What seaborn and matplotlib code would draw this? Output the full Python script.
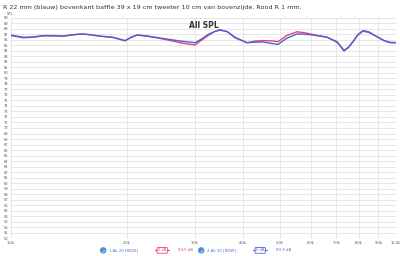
import pandas as pd
import matplotlib.pyplot as plt
import seaborn as sns

# frequency response
freq = [1000, 1074, 1140, 1211, 1290, 1364, 1450, 1529, 1610, 1703, 1840, 1978, 2050, 2124,
        2250, 2393, 2633, 2800, 3007, 3130, 3250, 3370, 3489, 3650, 3818, 4102, 4300, 4514,
        4720, 4939, 5200, 5532, 5800, 6085, 6621, 7025, 7180, 7326, 7520, 7733, 7960, 8205,
        8500, 8926, 9300, 9644, 10000]
spl_blue = [86.9, 86.5, 86.55, 86.8, 86.8, 86.7, 86.95, 87.1, 86.95, 86.7, 86.5, 85.9, 86.5,
            86.9, 86.75, 86.45, 86.0, 85.75, 85.5, 86.2, 87.0, 87.5, 87.8, 87.5, 86.5, 85.5,
            85.6, 85.65, 85.4, 85.2, 86.3, 87.1, 87.05, 86.9, 86.5, 85.7, 84.9, 84.1, 84.7,
            85.7, 86.9, 87.6, 87.4, 86.6, 85.9, 85.5, 85.5]
spl_red = [86.8, 86.4, 86.5, 86.75, 86.75, 86.7, 86.95, 87.1, 86.95, 86.7, 86.45, 85.85, 86.45,
           86.9, 86.7, 86.4, 85.8, 85.4, 85.1, 86.0, 86.8, 87.5, 87.9, 87.5, 86.4, 85.5,
           85.8, 85.9, 85.85, 85.7, 86.8, 87.5, 87.3, 87.0, 86.5, 85.6, 84.8, 84.0, 84.6,
           85.7, 87.0, 87.7, 87.5, 86.6, 85.9, 85.6, 85.5]
series_names = ['1-Ak 20 [RDW]', '2-Ak 20 [RDW]']
offsets = ['0 dB', '0 dB']
levels = ['93,5 dB', '93,3 dB']
xticks = [1000, 2000, 3000, 4000, 5000, 6000, 7000, 8000, 9000, 10000]
xtick_labels = ['1.0k', '2.0k', '3.0k', '4.0k', '5.0k', '6.0k', '7.0k', '8.0k', '9.0k', '10.0k']
yticks = list(range(50, 91))

df = pd.concat([
    pd.DataFrame({'freq': freq, 'spl': spl_red, 'curve': series_names[0]}),
    pd.DataFrame({'freq': freq, 'spl': spl_blue, 'curve': series_names[1]}),
])

colors = {series_names[0]: '#e8436e', series_names[1]: '#4b5fe0'}

sns.set_style('white')
fig = plt.figure(figsize=(4, 2.56), dpi=100)
ax = fig.add_axes([0.0275, 0.0703, 0.9625, 0.8594])
sns.lineplot(data=df, x='freq', y='spl', hue='curve', palette=colors, ax=ax,
             linewidth=1.0, legend=False, sort=False)
ax.set_xscale('log')
ax.set_xlim(1000, 10000)
ax.set_ylim(50, 90)
ax.set_xticks(xticks)
ax.set_xticklabels(xtick_labels)
ax.xaxis.set_minor_locator(plt.NullLocator())
ax.set_yticks(yticks)
ax.set_yticklabels([str(v) for v in yticks])
ax.tick_params(axis='both', labelsize=2.6, colors='#555555', length=0, pad=2)
ax.grid(True, color='#e2e2e2', linewidth=0.6)
for s in ax.spines.values():
    s.set_visible(False)
ax.set_xlabel('')
ax.set_ylabel('')

fig.text(0.008, 0.982, 'R 22 mm (blauw) bovenkant baffle 39 x 19 cm tweeter 10 cm van bovenzijde. Rood R 1 mm.',
         fontsize=4.6, color='#333333', va='top', ha='left')
fig.text(0.026, 0.945, 'SPL', fontsize=2.6, color='#555555', va='center', ha='center')
ax.text(0.5, 0.985, 'All SPL', transform=ax.transAxes, fontsize=5.5, fontweight='bold',
        color='#333333', ha='center', va='top')

# legend strip at the bottom
ly = 0.022
for i, (name, off, lev) in enumerate(zip(series_names, offsets, levels)):
    c = colors[name]
    x0 = 0.258 + i * 0.245
    fig.text(x0, ly, '\u2713', fontsize=3.5, color='white', ha='center', va='center',
             bbox=dict(boxstyle='circle,pad=0.15', fc='#4a90d9', ec='none'))
    fig.text(x0 + 0.015, ly, name, fontsize=2.8, color='#4a6fd0', ha='left', va='center')
    fig.add_artist(plt.Line2D([x0 + 0.13, x0 + 0.165], [ly, ly], color=c, lw=0.8))
    fig.text(x0 + 0.1475, ly, off, fontsize=2.6, color=c, ha='center', va='center',
             bbox=dict(boxstyle='round,pad=0.25', fc='white', ec=c, lw=0.6))
    fig.text(x0 + 0.205, ly, lev, fontsize=2.8, color=c, ha='center', va='center')

fig.savefig('out.png', dpi=100)
